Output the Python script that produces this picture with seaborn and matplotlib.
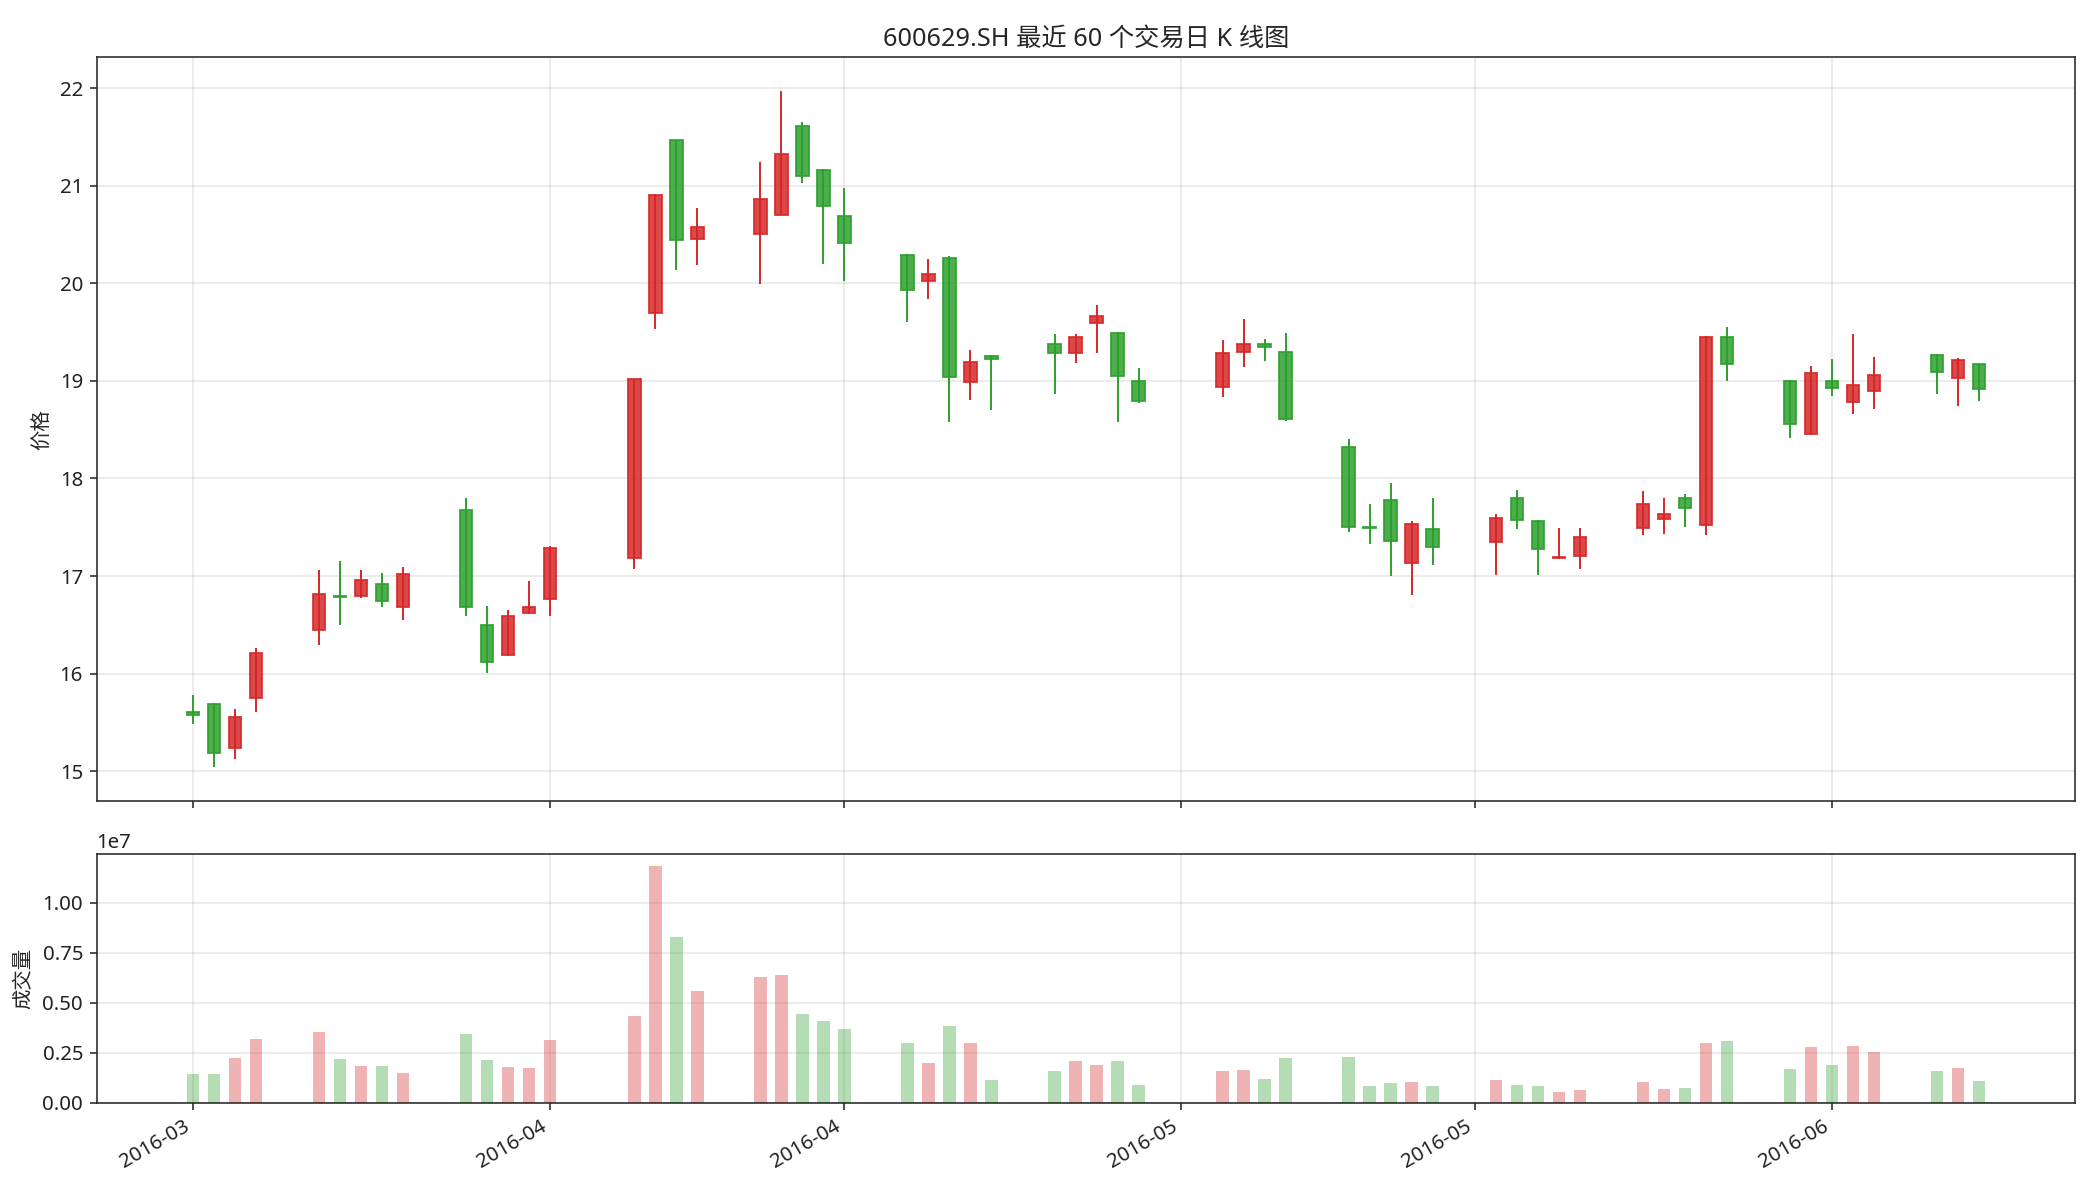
"""Candlestick + volume chart for 600629.SH, last 60 trading days."""

import matplotlib

matplotlib.use("Agg")
import matplotlib.dates as mdates
import matplotlib.pyplot as plt
import matplotlib.ticker as mticker
import pandas as pd
import seaborn as sns

TRADE_DAYS = [
    "2016-03-15", "2016-03-16", "2016-03-17", "2016-03-18",
    "2016-03-21", "2016-03-22", "2016-03-23", "2016-03-24", "2016-03-25",
    "2016-03-28", "2016-03-29", "2016-03-30", "2016-03-31", "2016-04-01",
    "2016-04-05", "2016-04-06", "2016-04-07", "2016-04-08",
    "2016-04-11", "2016-04-12", "2016-04-13", "2016-04-14", "2016-04-15",
    "2016-04-18", "2016-04-19", "2016-04-20", "2016-04-21", "2016-04-22",
    "2016-04-25", "2016-04-26", "2016-04-27", "2016-04-28", "2016-04-29",
    "2016-05-03", "2016-05-04", "2016-05-05", "2016-05-06",
    "2016-05-09", "2016-05-10", "2016-05-11", "2016-05-12", "2016-05-13",
    "2016-05-16", "2016-05-17", "2016-05-18", "2016-05-19", "2016-05-20",
    "2016-05-23", "2016-05-24", "2016-05-25", "2016-05-26", "2016-05-27",
    "2016-05-30", "2016-05-31", "2016-06-01", "2016-06-02", "2016-06-03",
    "2016-06-06", "2016-06-07", "2016-06-08",
]

OPEN = [
    15.61, 15.69, 15.24, 15.75,
    16.45, 16.79, 16.79, 16.92, 16.68,
    17.68, 16.50, 16.19, 16.62, 16.76,
    17.18, 19.70, 21.47, 20.45,
    20.51, 20.70, 21.61, 21.16, 20.69,
    20.29, 20.02, 20.26, 18.99, 19.26,
    19.38, 19.29, 19.59, 19.49, 19.00,
    18.94, 19.30, 19.38, 19.30,
    18.32, 17.50, 17.78, 17.13, 17.48,
    17.35, 17.80, 17.56, 17.18, 17.20,
    17.49, 17.58, 17.80, 17.52, 19.45,
    19.00, 18.46, 19.00, 18.78, 18.90,
    19.27, 19.03, 19.17,
]

HIGH = [
    15.78, 15.70, 15.64, 16.26,
    17.06, 17.15, 17.06, 17.03, 17.09,
    17.80, 16.69, 16.65, 16.95, 17.31,
    19.02, 20.92, 21.47, 20.77,
    21.24, 21.97, 21.65, 21.17, 20.98,
    20.30, 20.25, 20.28, 19.32, 19.27,
    19.48, 19.48, 19.78, 19.50, 19.13,
    19.42, 19.63, 19.43, 19.49,
    18.40, 17.74, 17.95, 17.56, 17.80,
    17.64, 17.88, 17.57, 17.49, 17.49,
    17.87, 17.80, 17.84, 19.46, 19.55,
    19.01, 19.15, 19.22, 19.48, 19.25,
    19.28, 19.23, 19.17,
]

LOW = [
    15.48, 15.04, 15.12, 15.61,
    16.29, 16.50, 16.77, 16.68, 16.55,
    16.59, 16.01, 16.18, 16.61, 16.59,
    17.07, 19.53, 20.14, 20.19,
    19.99, 20.70, 21.03, 20.20, 20.02,
    19.60, 19.84, 18.58, 18.80, 18.70,
    18.87, 19.18, 19.29, 18.58, 18.77,
    18.84, 19.14, 19.20, 18.59,
    17.45, 17.33, 17.00, 16.81, 17.11,
    17.01, 17.48, 17.01, 17.17, 17.07,
    17.42, 17.43, 17.50, 17.42, 19.00,
    18.41, 18.45, 18.85, 18.66, 18.71,
    18.87, 18.74, 18.79,
]

CLOSE = [
    15.58, 15.19, 15.55, 16.21,
    16.82, 16.78, 16.96, 16.74, 17.02,
    16.68, 16.12, 16.59, 16.68, 17.29,
    19.02, 20.91, 20.44, 20.58,
    20.86, 21.33, 21.10, 20.79, 20.41,
    19.93, 20.10, 19.04, 19.19, 19.22,
    19.29, 19.45, 19.67, 19.05, 18.79,
    19.29, 19.38, 19.35, 18.61,
    17.50, 17.49, 17.36, 17.53, 17.30,
    17.59, 17.57, 17.28, 17.19, 17.40,
    17.74, 17.64, 17.70, 19.45, 19.17,
    18.56, 19.08, 18.93, 18.96, 19.06,
    19.09, 19.21, 18.92,
]

VOLUME = [
    1.44e6, 1.44e6, 2.24e6, 3.19e6,
    3.55e6, 2.19e6, 1.84e6, 1.84e6, 1.49e6,
    3.44e6, 2.14e6, 1.79e6, 1.74e6, 3.14e6,
    4.35e6, 11.82e6, 8.26e6, 5.60e6,
    6.30e6, 6.40e6, 4.45e6, 4.10e6, 3.70e6,
    2.99e6, 1.99e6, 3.85e6, 2.99e6, 1.14e6,
    1.59e6, 2.09e6, 1.89e6, 2.09e6, 0.89e6,
    1.59e6, 1.64e6, 1.19e6, 2.24e6,
    2.29e6, 0.84e6, 0.99e6, 1.04e6, 0.84e6,
    1.14e6, 0.89e6, 0.84e6, 0.54e6, 0.64e6,
    1.04e6, 0.69e6, 0.74e6, 2.99e6, 3.09e6,
    1.69e6, 2.79e6, 1.89e6, 2.84e6, 2.54e6,
    1.59e6, 1.74e6, 1.09e6,
]

UP_COLOR = "#d62728"
DOWN_COLOR = "#2ca02c"

sns.set_theme(
    style="ticks",
    rc={
        "axes.edgecolor": "#222222",
        "axes.linewidth": 0.8,
        "axes.grid": True,
        "grid.color": "#b0b0b0",
        "grid.alpha": 0.3,
        "grid.linewidth": 0.8,
        "xtick.major.size": 3.5,
        "ytick.major.size": 3.5,
        "xtick.major.width": 0.8,
        "ytick.major.width": 0.8,
        "xtick.color": "#222222",
        "ytick.color": "#222222",
        "font.size": 10.5,
        "axes.titlesize": 13,
        "axes.labelsize": 10.5,
        "xtick.labelsize": 10.5,
        "ytick.labelsize": 10.5,
    },
)
plt.rcParams["font.family"] = ["Noto Sans", "Noto Sans CJK SC", "DejaVu Sans"]
plt.rcParams["axes.unicode_minus"] = False


def main() -> None:
    df = pd.DataFrame({
        "date": pd.to_datetime(TRADE_DAYS),
        "open": OPEN, "high": HIGH, "low": LOW, "close": CLOSE, "volume": VOLUME,
    })
    df["color"] = [UP_COLOR if c >= o else DOWN_COLOR for o, c in zip(df["open"], df["close"])]

    W, H, DPI = 2094, 1201, 140
    fig = plt.figure(figsize=(W / DPI, H / DPI), dpi=DPI)
    ax = fig.add_axes([0.04618, 0.33306, 0.94494, 0.61915])
    ax_vol = fig.add_axes([0.04618, 0.08185, 0.94494, 0.20683], sharex=ax)

    # wicks first, bodies on top
    ax.vlines(df["date"], df["low"], df["high"], colors=df["color"], linewidth=1.0)
    body_bottom = df[["open", "close"]].min(axis=1)
    body_height = (df["close"] - df["open"]).abs()
    ax.bar(df["date"], body_height, bottom=body_bottom, width=0.6,
           color=df["color"], edgecolor=df["color"], linewidth=1.0, alpha=0.85)

    ax_vol.bar(df["date"], df["volume"], width=0.6, color=df["color"], alpha=0.35, linewidth=0)

    ax.set_title("600629.SH 最近 60 个交易日 K 线图")
    ax.set_ylabel("价格")
    ax_vol.set_ylabel("成交量")

    ax_vol.xaxis.set_major_locator(mdates.DayLocator(bymonthday=[1, 15]))
    ax_vol.xaxis.set_major_formatter(mdates.DateFormatter("%Y-%m"))
    ax_vol.yaxis.set_major_locator(mticker.MultipleLocator(2.5e6))
    ax.tick_params(labelbottom=False)
    for label in ax_vol.get_xticklabels():
        label.set_rotation(30)
        label.set_horizontalalignment("right")

    for a in (ax, ax_vol):
        a.grid(True, alpha=0.3)

    fig.savefig("out.png", dpi=DPI)
    plt.close(fig)


if __name__ == "__main__":
    main()
